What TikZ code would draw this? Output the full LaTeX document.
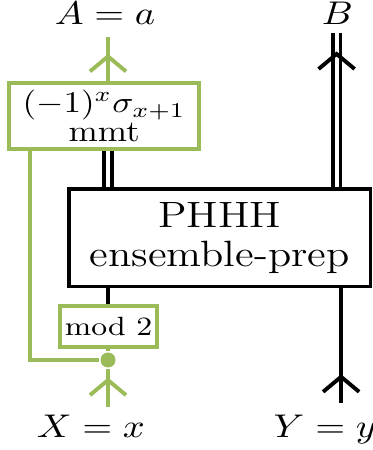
\documentclass[tikz,border=0pt]{standalone}
\usepackage{graphicx}
\usetikzlibrary{decorations.markings,positioning}
\definecolor{qgreen}{RGB}{155,187,89}
% text in the picture is a bit wider than it is tall
\newcommand\xs[1]{\scalebox{1.17}[1]{#1}}
\begin{document}
\begin{tikzpicture}[x=1pt,y=1pt,line width=1.3pt,
		box/.style={draw,rectangle,inner sep=0pt,align=center},
		gbox/.style={box,draw=qgreen},
		gwire/.style={draw=qgreen},
		cwire/.style={double,double distance=1.3pt,line width=1.3pt},
		lab/.style={font=\fontsize{10.5}{12}\selectfont,anchor=base,inner sep=0pt},
		chev/.style={postaction={decorate},decoration={markings,mark=at position #1 with {\draw[line width=1.3pt] (-5pt,6pt)--(0,0)--(-5pt,-6pt);}}}]
	\useasboundingbox (0,0) rectangle (124,150);
	\node[box,line width=1.1pt,font=\fontsize{12.2}{13}\selectfont,minimum width=100.5pt,minimum height=32.5pt] (prep) at (73.2,70.7) {\xs{PHHH}\\\xs{ensemble-prep}};
	\node[gbox,font=\fontsize{10}{9.6}\selectfont,minimum width=63.3pt,minimum height=22pt] (mmt) at (34.7,111.3) {\xs{$(-1)^x\sigma_{x+1}$}\\\xs{mmt}};
	\node[gbox,font=\fontsize{8.8}{9}\selectfont,minimum width=32.3pt,minimum height=13.7pt] (mod) at (36.2,41.2) {\xs{mod 2}};
	\node[circle,fill=qgreen,inner sep=0pt,minimum size=5pt] (split) at (36,30) {};
	\node[lab] (A) at (35,141.7) {\xs{$A=a$}};
	\node[lab] (B) at (112.5,141.7) {\xs{$B$}};
	\node[lab] (X) at (30.3,4.3) {\xs{$X=x$}};
	\node[lab] (Y) at (108.3,4.3) {\xs{$Y=y$}};
	\coordinate (aout) at (36,137.7);
	\coordinate (bout) at (112.2,139);
	\coordinate (xin) at (36,14.3);
	\coordinate (yin) at (113.7,15.7);
	\coordinate (loop) at (10,100.3);
	% wires
	\draw[gwire,chev=-6.5pt] (mmt.north -| aout) -- (aout);
	\draw[cwire,chev=-7pt] (prep.north -| bout) -- (bout);
	\draw[cwire] (prep.north -| split) -- (mmt.south -| split);
	\draw (prep.south -| split) -- (mod.north -| split);
	\draw[gwire] (split) -- (mod.south -| split);
	\draw[gwire] (split) -| (loop);
	\draw[gwire,chev=9pt] (xin) -- (split);
	\draw[chev=8.7pt] (yin) -- (prep.south -| yin);
\end{tikzpicture}
\end{document}
